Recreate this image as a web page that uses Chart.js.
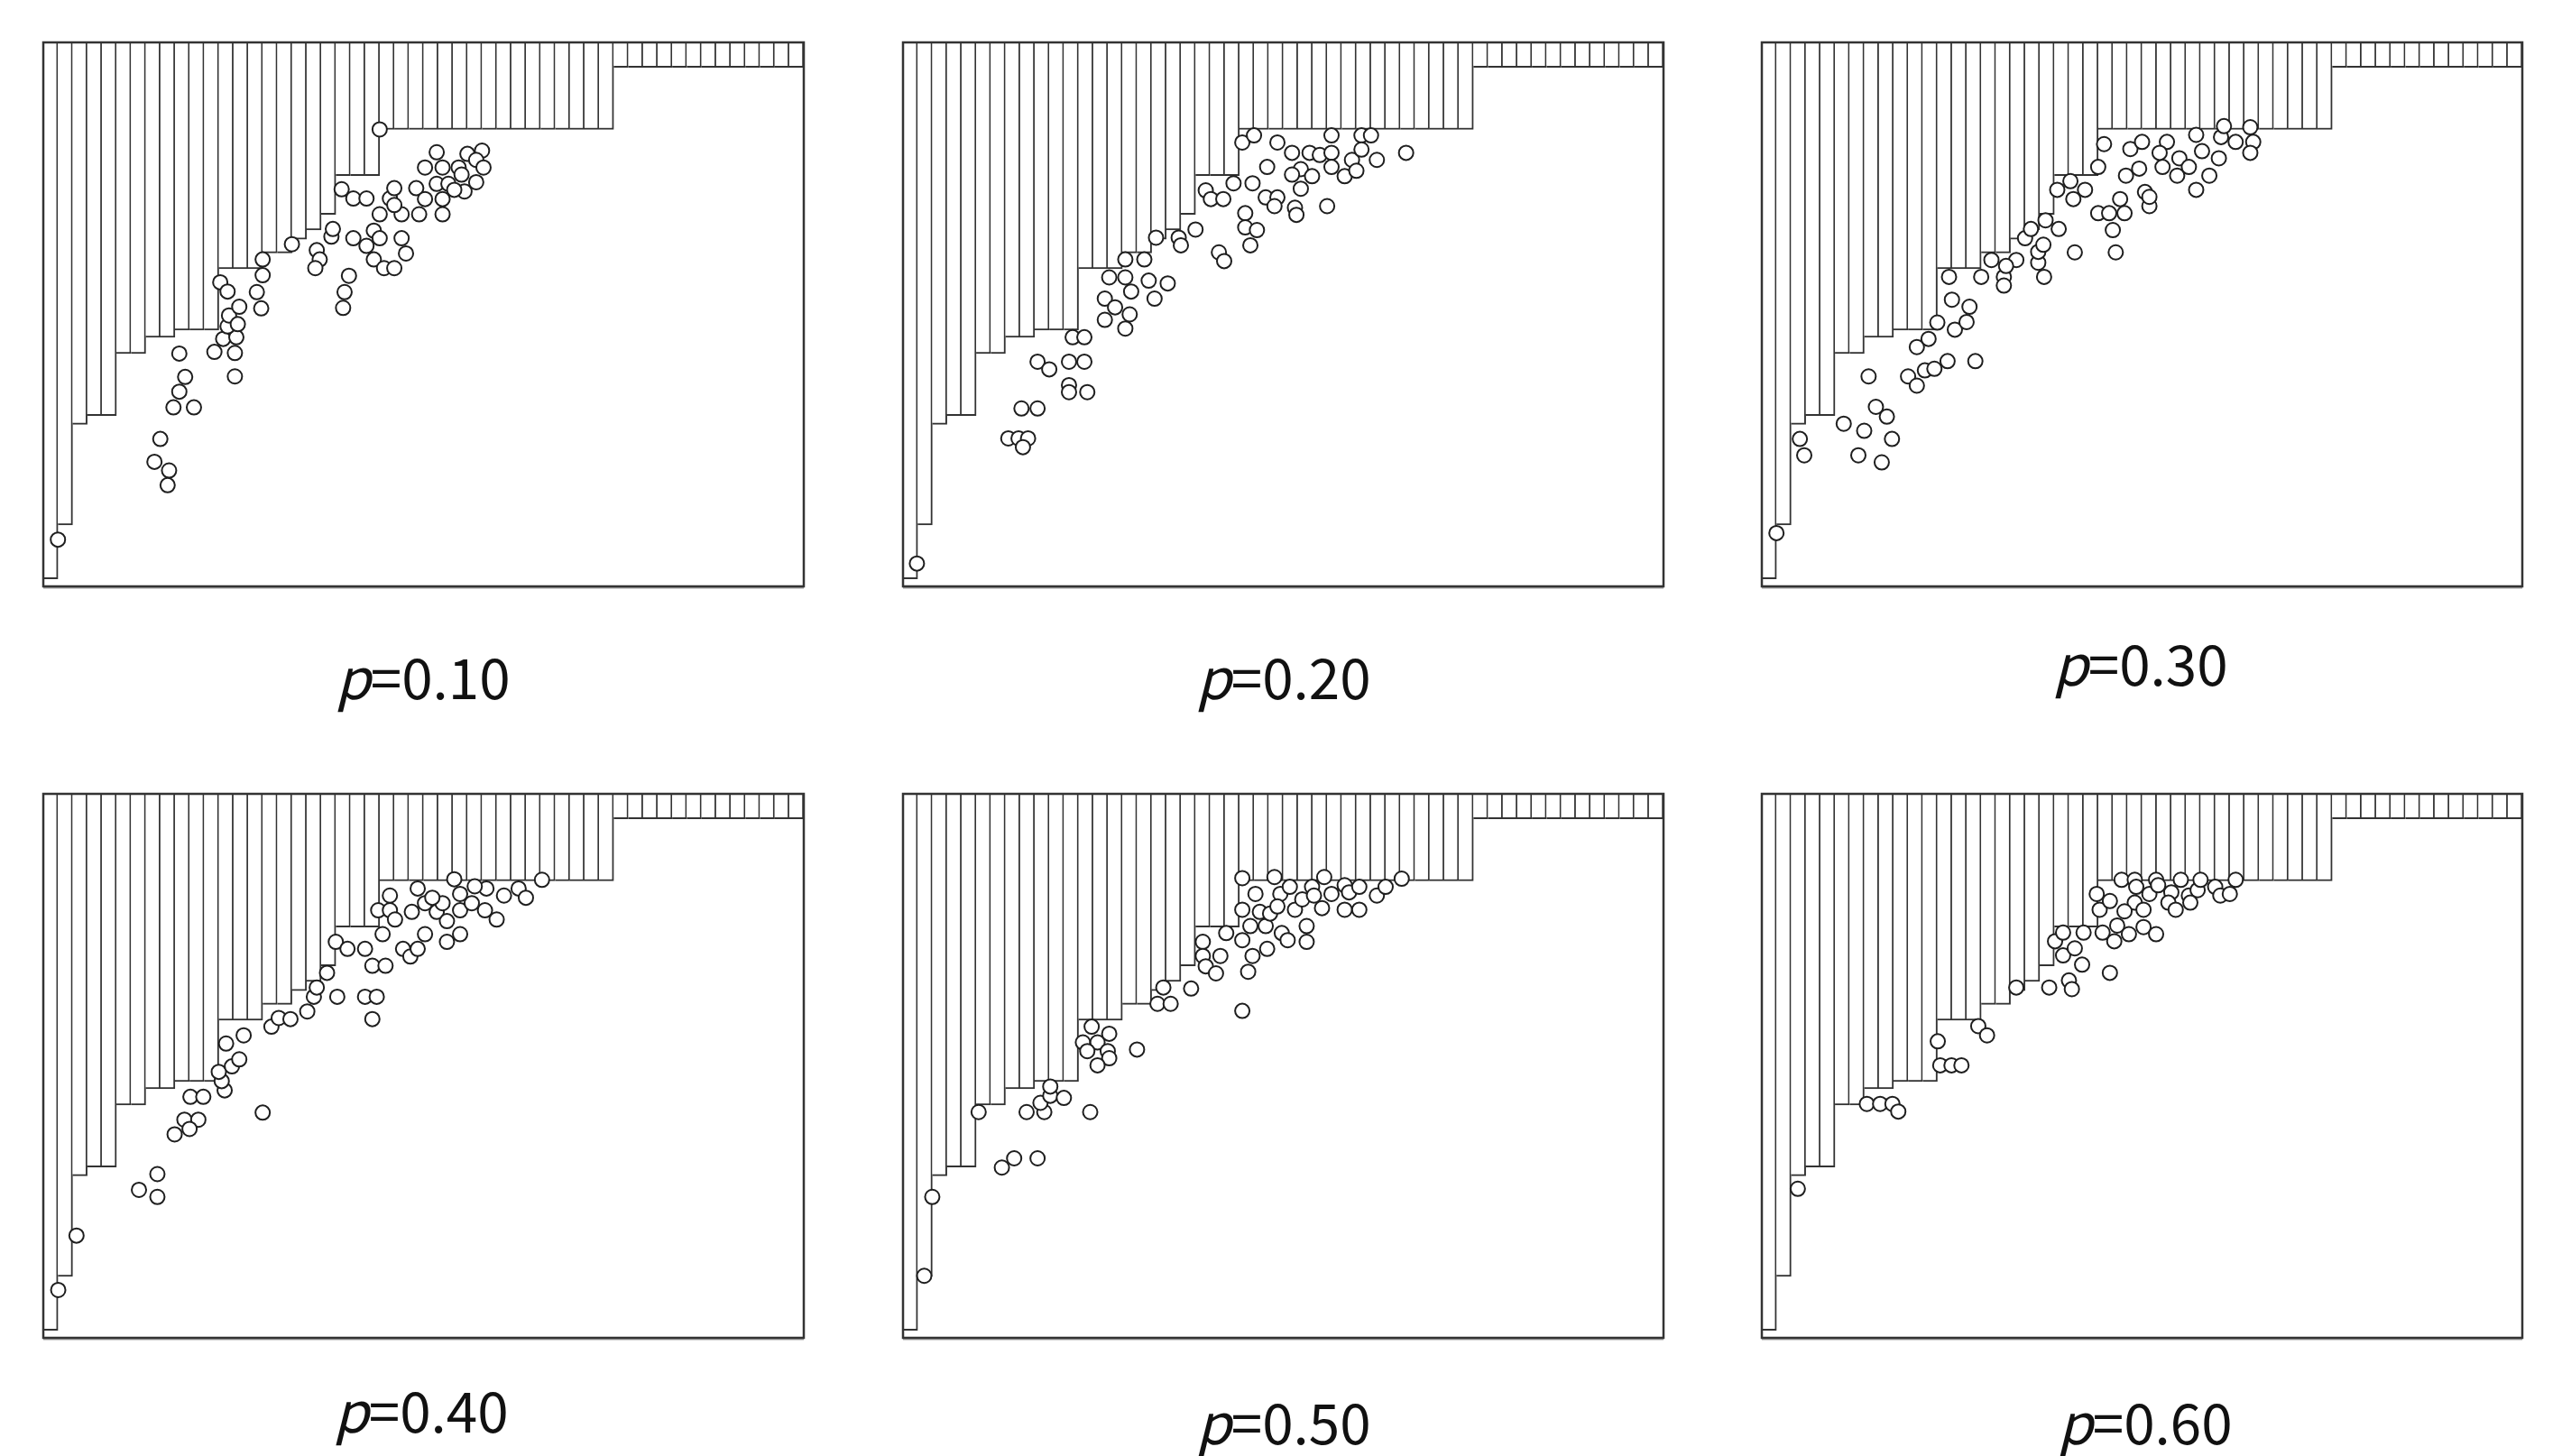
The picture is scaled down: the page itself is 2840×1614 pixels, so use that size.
<!DOCTYPE html>
<html>
<head>
<meta charset="utf-8">
<script src="https://cdn.jsdelivr.net/npm/chart.js@4.4.1/dist/chart.umd.min.js"></script>
<style>
body { margin: 0; background: #fff; width: 2840px; height: 1614px; position: relative; overflow: hidden; }
canvas { position: absolute; }
.lbl { position: absolute; font-family: "Noto Sans CJK JP", "Noto Sans", sans-serif; font-size: 62px; color: #111;
       transform: translate(-50%, -50%); white-space: nowrap; line-height: 1; }
.lbl i { font-style: italic; }
</style>
</head>
<body>
<script>
// depth of each of the 52 columns, % of box height measured from the top
const colDepth = [
    98.6, 88.7, 70.2, 68.6, 68.6, 57.2, 57.2, 54.2, 54.2, 52.9, 52.9, 52.9,
    41.6, 41.6, 41.6, 38.7, 38.7, 36.2, 34.5, 31.6, 24.5, 24.5, 24.5,
    16.0, 16.0, 16.0, 16.0, 16.0, 16.0, 16.0, 16.0, 16.0, 16.0, 16.0, 16.0, 16.0, 16.0, 16.0, 16.0,
    4.6, 4.6, 4.6, 4.6, 4.6, 4.6, 4.6, 4.6, 4.6, 4.6, 4.6, 4.6, 4.6
];

// points: [column position, depth %]
const pts10 = [[1.0,91.4],[8.0,72.9],[7.6,77.1],[8.6,78.7],[8.5,81.4],[9.3,57.2],[9.7,61.5],[9.3,64.2],[8.9,67.1],[10.3,67.1],
    [13.1,61.4],[11.7,56.9],[12.3,54.5],[13.1,57.1],[13.2,54.2],[12.6,52.2],[12.7,50.2],[13.4,48.6],[12.1,44.1],[12.6,45.8],
    [13.3,51.8],[23.0,16.0],[17.0,37.1],[15.0,39.9],[15.0,42.8],[14.6,45.9],[14.9,48.9],[18.7,38.2],[18.9,39.9],[18.6,41.5],
    [19.7,35.7],[19.8,34.3],[21.2,36.0],[22.1,37.4],[22.6,34.6],[23.0,36.0],[22.6,39.9],[23.3,41.5],[24.0,41.5],[24.5,36.0],
    [24.8,38.8],[20.9,42.9],[20.6,45.9],[20.5,48.8],[20.4,27.0],[21.2,28.7],[22.1,28.7],[23.0,31.6],[23.7,28.7],[24.0,26.8],
    [24.5,31.6],[24.0,29.9],[25.5,26.8],[25.7,31.6],[26.1,28.8],[27.3,28.8],[27.3,31.6],[26.9,26.0],[27.7,26.0],[26.9,20.2],
    [26.1,23.0],[27.3,23.0],[28.4,23.0],[29.0,20.5],[30.0,19.9],[29.6,21.6],[30.1,23.0],[29.6,25.7],[28.8,27.4],[28.1,27.1],[28.6,24.3]];

const pts20 = [[0.95,95.8],[7.2,72.8],[7.9,72.8],[8.55,72.8],[8.2,74.4],[8.1,67.3],[9.2,67.3],[9.2,58.7],[10.0,60.1],[11.35,58.7],
    [12.4,58.7],[11.35,63.0],[11.35,64.3],[12.6,64.3],[11.6,54.2],[12.4,54.2],[13.8,51.0],[13.8,47.1],[14.5,48.7],[15.2,52.6],
    [15.5,50.0],[15.6,45.8],[14.1,43.2],[15.2,43.2],[15.2,39.9],[16.5,39.9],[16.8,43.8],[18.1,44.3],[17.2,47.1],[17.3,35.9],
    [18.85,35.9],[19.0,37.3],[20.0,34.4],[21.6,38.6],[21.96,40.2],[20.7,27.2],[21.05,28.8],[21.9,28.8],[22.6,25.9],[23.2,18.4],
    [24.0,17.1],[23.9,25.9],[24.9,22.9],[24.8,28.5],[23.4,31.4],[23.4,34.0],[24.2,34.5],[23.75,37.3],[25.6,18.4],[25.6,28.5],
    [25.4,30.1],[26.8,30.4],[26.9,31.7],[27.2,26.9],[27.2,23.3],[26.6,24.3],[26.6,20.3],[27.8,20.3],[28.5,20.7],[29.3,17.1],
    [29.3,20.3],[29.3,22.9],[30.2,24.6],[30.7,21.6],[31.35,17.1],[32.0,17.1],[31.35,19.7],[32.4,21.6],[31.0,23.6],[29.0,30.1],
    [34.4,20.3],[27.97,24.6]];

const pts30 = [[1.0,90.2],[2.6,72.9],[2.9,75.9],[5.6,70.1],[7.0,71.4],[8.9,72.9],[6.6,75.9],[8.2,77.2],[7.3,61.4],[7.8,67.0],
    [8.55,68.8],[10.0,61.4],[10.6,63.1],[11.15,60.3],[11.8,60.0],[12.7,58.6],[14.6,58.6],[10.6,56.0],[11.4,54.5],[12.0,51.5],
    [13.2,52.8],[14.0,51.4],[14.2,48.6],[13.0,47.3],[12.8,43.1],[15.0,43.1],[16.55,43.1],[16.55,44.7],[15.7,40.0],[17.4,40.0],
    [16.7,41.1],[19.3,43.1],[18.9,40.5],[18.9,38.5],[19.25,37.2],[18.0,36.0],[18.4,34.3],[19.4,32.7],[20.3,34.3],[21.4,38.6],
    [24.2,38.6],[20.2,27.1],[21.1,25.5],[22.1,27.1],[21.3,28.8],[23.0,22.9],[23.4,18.7],[23.0,31.4],[23.75,31.4],[24.8,31.4],
    [24.0,34.5],[24.5,28.8],[24.9,24.5],[25.2,19.6],[26.0,18.3],[25.8,23.2],[26.2,27.5],[26.5,30.1],[26.5,28.4],[27.4,22.9],
    [27.7,18.3],[28.55,21.3],[28.4,24.5],[29.2,22.9],[29.7,27.1],[29.7,17.0],[30.6,24.5],[30.1,20.0],[31.25,21.3],[31.4,17.4],
    [31.6,15.4],[32.4,18.3],[33.4,15.6],[33.6,18.3],[33.4,20.3],[27.2,20.3]];

const pts40 = [[1.02,91.2],[2.27,81.2],[7.8,69.9],[6.54,72.8],[7.8,74.1],[10.06,55.7],[10.94,55.7],[9.65,59.9],[10.6,59.9],[10.0,61.6],
    [8.98,62.6],[15.0,58.6],[12.4,54.5],[12.2,52.8],[12.0,51.1],[12.9,50.1],[13.4,48.8],[12.5,45.9],[13.7,44.4],[15.6,42.8],
    [16.1,41.2],[16.9,41.4],[18.05,40.0],[18.5,37.3],[18.7,35.6],[19.4,32.9],[20.1,37.3],[20.0,27.2],[20.8,28.5],[22.0,28.5],
    [22.5,31.6],[23.4,31.6],[22.0,37.3],[22.8,37.3],[22.5,41.4],[23.2,25.8],[24.6,28.5],[25.1,29.9],[25.6,28.5],[26.1,25.8],
    [27.6,27.2],[28.5,25.8],[22.9,21.4],[23.7,18.7],[23.7,21.4],[24.05,23.1],[25.6,17.4],[25.2,21.7],[26.1,20.1],[26.9,21.7],
    [27.3,20.1],[27.6,23.4],[28.1,15.7],[28.5,18.4],[28.5,21.4],[29.3,20.1],[30.2,21.4],[30.3,17.4],[31.0,23.1],[31.5,18.7],
    [32.5,17.4],[33.0,19.1],[34.1,15.8],[29.5,17.0],[26.6,19.1]];

const pts50 = [[1.45,88.6],[2.0,74.1],[6.76,68.7],[7.6,67.0],[9.2,67.0],[5.17,58.5],[8.45,58.5],[9.66,58.5],[12.8,58.5],[9.4,56.8],
    [10.07,55.5],[11.0,55.9],[10.07,53.8],[12.9,42.8],[14.1,44.1],[12.3,45.7],[13.3,45.7],[14.0,47.3],[12.6,47.3],[14.1,48.6],
    [13.3,49.9],[16.0,47.0],[17.8,35.6],[17.4,38.6],[18.3,38.6],[19.7,35.8],[23.2,39.9],[20.5,27.2],[20.5,29.8],[20.7,31.7],
    [21.4,33.0],[21.7,29.8],[22.1,25.6],[23.2,26.9],[23.9,29.8],[23.6,32.7],[23.2,15.5],[25.4,15.3],[24.1,18.4],[23.2,21.3],
    [24.4,21.7],[23.75,24.3],[24.8,24.3],[25.1,22.0],[24.9,28.5],[25.9,25.6],[26.3,26.9],[25.8,18.4],[26.45,17.1],[26.8,21.3],
    [27.6,24.3],[27.6,27.2],[27.97,17.1],[27.3,19.4],[28.1,18.7],[28.8,15.3],[29.3,18.4],[30.2,16.8],[30.5,18.1],[30.2,21.3],
    [31.2,21.3],[31.2,17.1],[32.4,18.7],[33.0,17.1],[34.1,15.6],[28.65,21.0],[25.6,20.7]];

const pts60 = [[2.46,72.6],[7.18,57.0],[8.09,57.0],[8.93,57.0],[9.33,58.4],[12.03,45.5],[12.2,49.9],[12.97,49.9],[13.65,49.9],[14.8,42.7],
    [15.4,44.4],[17.4,35.6],[19.65,35.6],[21.0,34.3],[21.2,35.9],[23.8,32.9],[20.6,29.7],[21.4,28.4],[21.9,31.4],[20.05,27.1],
    [20.6,25.5],[22.0,25.5],[23.3,25.5],[24.1,27.1],[24.3,24.2],[25.1,25.8],[26.1,24.5],[26.96,25.8],[23.1,21.3],[22.9,18.4],
    [23.8,19.7],[24.6,15.8],[25.5,15.8],[25.5,20.0],[26.1,21.3],[25.6,17.1],[26.5,18.4],[26.96,15.8],[28.0,18.1],[27.8,20.0],
    [28.3,21.3],[28.65,15.8],[29.2,18.7],[29.8,17.7],[30.0,15.8],[29.3,20.0],[31.0,17.1],[31.35,18.7],[32.0,18.4],[32.4,15.8],
    [24.8,21.6],[27.1,16.8]];

const labels = ['0.10', '0.20', '0.30', '0.40', '0.50', '0.60'];
const series = [pts10, pts20, pts30, pts40, pts50, pts60];

// page layout: box left/top, label centre
const boxW = 843, boxH = 603, pad = 12;
const layout = [
    { x: 48,   y: 47,  lx: 469,  ly: 748 },
    { x: 1001, y: 47,  lx: 1423, ly: 748 },
    { x: 1953, y: 47,  lx: 2373, ly: 733 },
    { x: 48,   y: 880, lx: 467,  ly: 1561 },
    { x: 1001, y: 880, lx: 1423, ly: 1574 },
    { x: 1953, y: 880, lx: 2378, ly: 1574 }
];

const framePlugin = {
    id: 'frame',
    afterDatasetsDraw(chart) {
        const a = chart.chartArea;
        const ctx = chart.ctx;
        ctx.save();
        ctx.strokeStyle = '#a0a0a0';
        ctx.lineWidth = 3;
        ctx.beginPath();
        ctx.moveTo(a.left, a.bottom + 1);
        ctx.lineTo(a.right, a.bottom + 1);
        ctx.stroke();
        ctx.strokeStyle = '#333';
        ctx.lineWidth = 2.5;
        ctx.strokeRect(a.left, a.top, a.right - a.left, a.bottom - a.top);
        ctx.restore();
    }
};

function drawPanel(i)
{
    const pos = layout[i];
    const canvas = document.createElement('canvas');
    canvas.width = boxW + pad * 2;
    canvas.height = boxH + pad * 2;
    canvas.style.left = (pos.x - pad) + 'px';
    canvas.style.top = (pos.y - pad) + 'px';
    document.body.appendChild(canvas);

    const label = document.createElement('div');
    label.className = 'lbl';
    label.style.left = pos.lx + 'px';
    label.style.top = pos.ly + 'px';
    label.innerHTML = '<i>p</i>=' + labels[i];
    document.body.appendChild(label);

    new Chart(canvas.getContext('2d'), {
        type: 'bar',
        data: {
            datasets: [
                {
                    type: 'scatter',
                    order: 0,
                    data: series[i].map(p => ({ x: p[0], y: p[1] })),
                    pointRadius: 8,
                    pointBorderWidth: 2,
                    pointBorderColor: '#1e1e1e',
                    pointBackgroundColor: '#fff',
                    clip: false
                },
                {
                    type: 'bar',
                    order: 1,
                    data: colDepth.map((d, k) => ({ x: k + 0.5, y: d })),
                    backgroundColor: '#fff',
                    borderColor: '#333',
                    borderWidth: { top: 0, left: 0, right: 2, bottom: 2 },
                    barPercentage: 1,
                    categoryPercentage: 1
                }
            ]
        },
        options: {
            responsive: false,
            animation: false,
            events: [],
            layout: { padding: pad },
            plugins: { legend: { display: false }, tooltip: { enabled: false } },
            scales: {
                x: { type: 'linear', min: 0, max: 52, offset: false, display: false },
                y: { type: 'linear', min: 0, max: 100, reverse: true, display: false }
            }
        },
        plugins: [framePlugin]
    });
}

document.addEventListener('DOMContentLoaded', function () {
    for (let i = 0; i < layout.length; i++) drawPanel(i);
});
</script>
</body>
</html>
